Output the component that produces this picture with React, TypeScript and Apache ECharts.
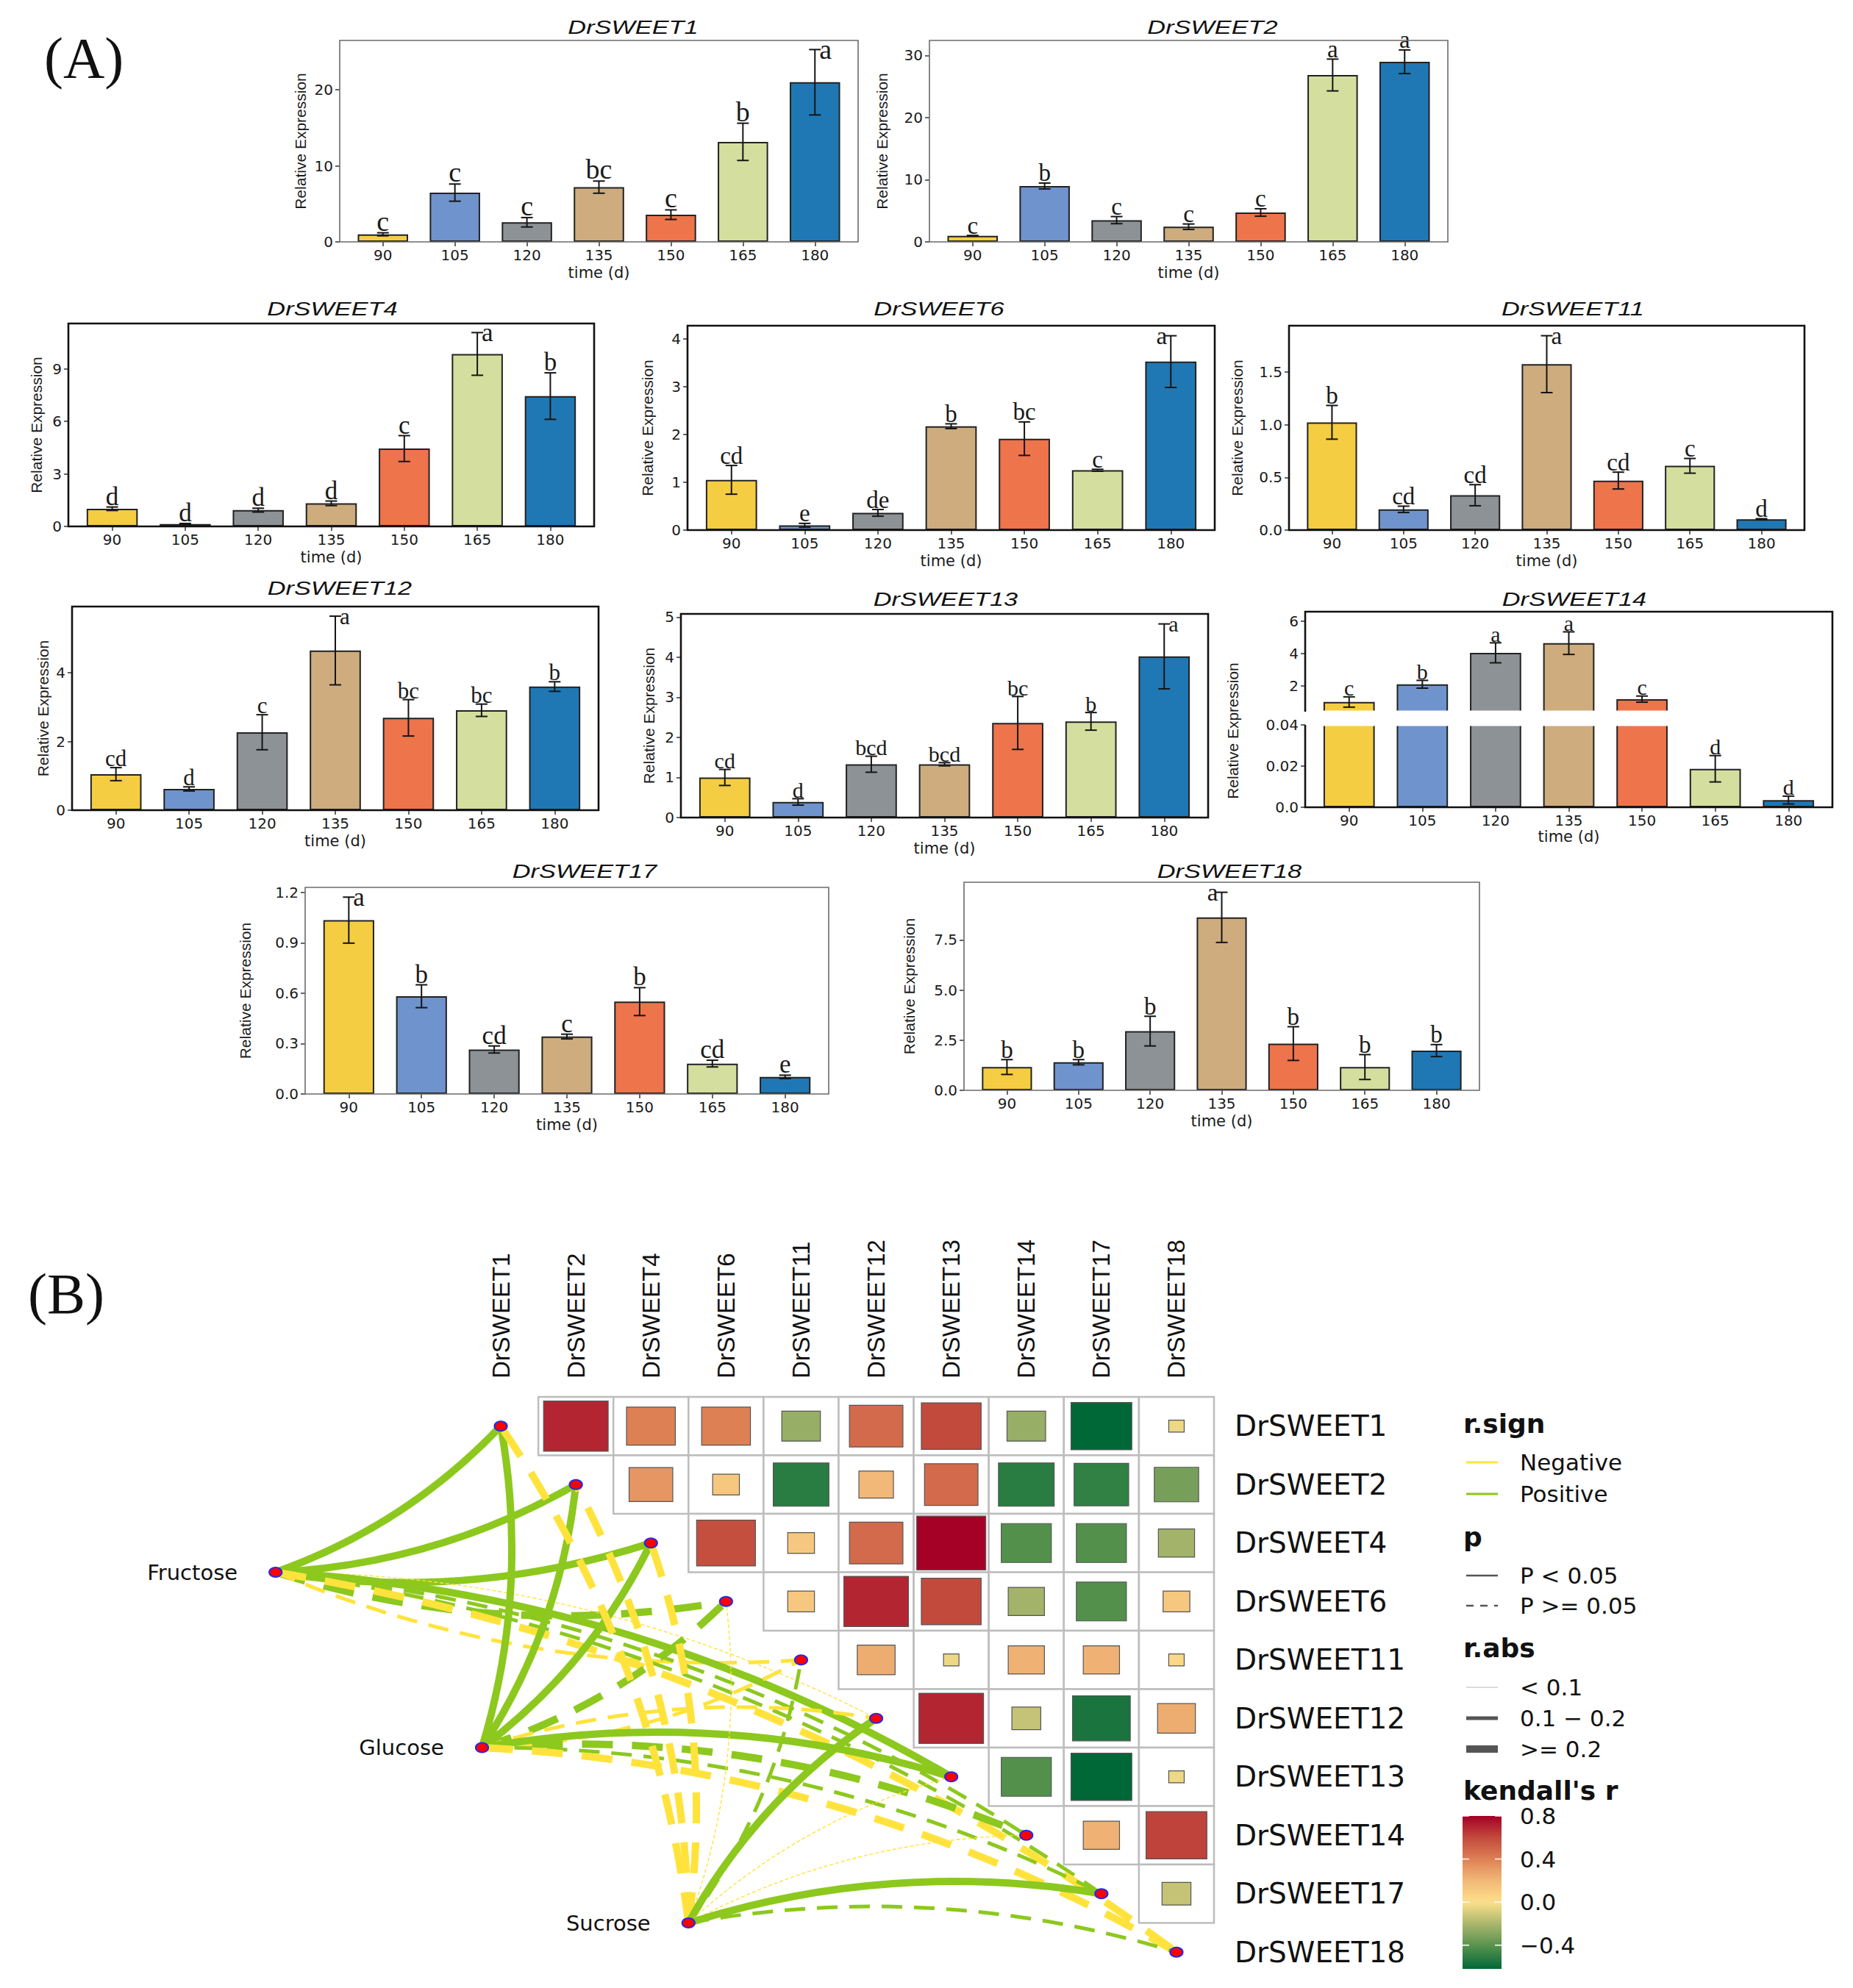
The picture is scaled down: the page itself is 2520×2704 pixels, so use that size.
import React, { useEffect, useRef } from 'react';
import * as echarts from 'echarts';

// ---------------- DATA ----------------
const timePoints = ['90', '105', '120', '135', '150', '165', '180'];

const sweet1Mean = [1.0, 6.48, 2.58, 7.2, 3.58, 13.16, 21.0];
const sweet1Err = [0.2, 1.13, 0.62, 0.8, 0.63, 2.45, 4.3];
const sweet1Sig = ['c', 'c', 'c', 'bc', 'c', 'b', 'a'];
const sweet1Ticks = [0, 10, 20];

const sweet2Mean = [0.99, 8.99, 3.5, 2.44, 4.73, 26.84, 28.97];
const sweet2Err = [0.05, 0.47, 0.57, 0.44, 0.6, 2.56, 1.9];
const sweet2Sig = ['c', 'b', 'c', 'c', 'c', 'a', 'a'];
const sweet2Ticks = [0, 10, 20, 30];

const sweet4Mean = [1.01, 0.14, 0.93, 1.32, 4.45, 9.86, 7.45];
const sweet4Err = [0.1, 0.03, 0.11, 0.13, 0.74, 1.22, 1.33];
const sweet4Sig = ['d', 'd', 'd', 'd', 'c', 'a', 'b'];
const sweet4Ticks = [0, 3, 6, 9];

const sweet6Mean = [1.05, 0.1, 0.36, 2.17, 1.91, 1.25, 3.52];
const sweet6Err = [0.3, 0.04, 0.07, 0.05, 0.35, 0.02, 0.54];
const sweet6Sig = ['cd', 'e', 'de', 'b', 'bc', 'c', 'a'];
const sweet6Ticks = [0, 1, 2, 3, 4];

const sweet11Mean = [1.023, 0.197, 0.331, 1.575, 0.47, 0.61, 0.103];
const sweet11Err = [0.16, 0.03, 0.1, 0.27, 0.08, 0.07, 0.005];
const sweet11Sig = ['b', 'cd', 'cd', 'a', 'cd', 'c', 'd'];
const sweet11Ticks = [0, 0.5, 1, 1.5];

const sweet12Mean = [1.05, 0.62, 2.27, 4.65, 2.69, 2.91, 3.6];
const sweet12Err = [0.19, 0.06, 0.51, 1.0, 0.53, 0.18, 0.14];
const sweet12Sig = ['cd', 'd', 'c', 'a', 'bc', 'bc', 'b'];
const sweet12Ticks = [0, 2, 4];

const sweet13Mean = [1.0, 0.39, 1.33, 1.33, 2.36, 2.4, 4.02];
const sweet13Err = [0.2, 0.08, 0.2, 0.04, 0.66, 0.22, 0.81];
const sweet13Sig = ['cd', 'd', 'bcd', 'bcd', 'bc', 'b', 'a'];
const sweet13Ticks = [0, 1, 2, 3, 4, 5];

const sweet14Mean = [1.0, 2.1, 4.05, 4.65, 1.18, 0.0187, 0.0035];
const sweet14Err = [0.32, 0.24, 0.62, 0.7, 0.19, 0.0064, 0.0019];
const sweet14Sig = ['c', 'b', 'a', 'a', 'c', 'd', 'd'];
const sweet14UpperTicks = [2, 4, 6];
const sweet14LowerTicks = [0, 0.02, 0.04];

const sweet17Mean = [1.035, 0.582, 0.265, 0.342, 0.55, 0.181, 0.102];
const sweet17Err = [0.137, 0.068, 0.021, 0.014, 0.083, 0.02, 0.01];
const sweet17Sig = ['a', 'b', 'cd', 'c', 'b', 'cd', 'e'];
const sweet17Ticks = [0, 0.3, 0.6, 0.9, 1.2];

const sweet18Mean = [1.16, 1.4, 2.95, 8.62, 2.33, 1.16, 1.98];
const sweet18Err = [0.37, 0.13, 0.74, 1.25, 0.84, 0.62, 0.3];
const sweet18Sig = ['b', 'b', 'b', 'a', 'b', 'b', 'b'];
const sweet18Ticks = [0, 2.5, 5, 7.5];

const geneLabels = ['DrSWEET1', 'DrSWEET2', 'DrSWEET4', 'DrSWEET6', 'DrSWEET11', 'DrSWEET12', 'DrSWEET13', 'DrSWEET14', 'DrSWEET17', 'DrSWEET18'];

// Kendall r between gene i (row) and the genes after it (columns i+1..)
const kendallRow1 = [0.7, 0.4, 0.4, -0.25, 0.48, 0.6, -0.25, -0.62, -0.04];
const kendallRow2 = [0.32, 0.12, -0.52, 0.2, 0.48, -0.52, -0.5, -0.33];
const kendallRow4 = [0.58, 0.12, 0.48, 0.8, -0.42, -0.42, -0.22];
const kendallRow6 = [0.12, 0.7, 0.6, -0.22, -0.42, 0.12];
const kendallRow11 = [0.24, -0.04, 0.22, 0.22, 0.04];
const kendallRow12 = [0.7, -0.14, -0.56, 0.24];
const kendallRow13 = [-0.42, -0.62, -0.04];
const kendallRow14 = [0.22, 0.62];
const kendallRow17 = [-0.14];
const kendallRows = [kendallRow1, kendallRow2, kendallRow4, kendallRow6, kendallRow11, kendallRow12, kendallRow13, kendallRow14, kendallRow17];

const sugarNames = ['Fructose', 'Glucose', 'Sucrose'];
const fructoseR = [0.45, 0.42, 0.4, 0.25, -0.15, -0.05, 0.38, 0.15, 0.14, -0.28];
const fructoseP = [0.01, 0.01, 0.02, 0.12, 0.3, 0.7, 0.02, 0.35, 0.4, 0.09];
const glucoseR = [0.5, 0.45, 0.42, 0.26, -0.14, -0.13, 0.4, 0.22, 0.16, -0.3];
const glucoseP = [0.005, 0.01, 0.01, 0.11, 0.4, 0.42, 0.02, 0.18, 0.33, 0.07];
const sucroseR = [-0.3, -0.28, -0.32, -0.06, 0.17, 0.4, -0.05, -0.04, 0.42, 0.15];
const sucroseP = [0.07, 0.09, 0.06, 0.7, 0.3, 0.02, 0.75, 0.8, 0.01, 0.36];

const colorbarTicks = [0.8, 0.4, 0.0, -0.4];
const colorbarRange = [-0.62, 0.8];

// ---------------- STYLE / LAYOUT ----------------
const FONT_WIDE = '"DejaVu Sans", "Liberation Sans", sans-serif';
const FONT_SANS = '"Liberation Sans", Arial, sans-serif';
const FONT_SERIF = '"Liberation Serif", "Times New Roman", serif';
const barColors = ['#F5CD42', '#6F93CC', '#8D9296', '#CEAC7E', '#EE744B', '#D4DF9F', '#1F78B4'];
const POS = '#8DC81E';
const NEG = '#FFE33C';
const corrStops: [number, string][] = [
  [-0.62, '#006837'], [-0.42, '#52904C'], [-0.22, '#A3B36A'], [0, '#FEE08B'],
  [0.2, '#F1B877'], [0.4, '#DD8054'], [0.6, '#C24A3D'], [0.8, '#A50026'],
];

const panels = [
  { title: 'DrSWEET1', mean: sweet1Mean, err: sweet1Err, sig: sweet1Sig, ticks: sweet1Ticks },
  { title: 'DrSWEET2', mean: sweet2Mean, err: sweet2Err, sig: sweet2Sig, ticks: sweet2Ticks },
  { title: 'DrSWEET4', mean: sweet4Mean, err: sweet4Err, sig: sweet4Sig, ticks: sweet4Ticks },
  { title: 'DrSWEET6', mean: sweet6Mean, err: sweet6Err, sig: sweet6Sig, ticks: sweet6Ticks },
  { title: 'DrSWEET11', mean: sweet11Mean, err: sweet11Err, sig: sweet11Sig, ticks: sweet11Ticks },
  { title: 'DrSWEET12', mean: sweet12Mean, err: sweet12Err, sig: sweet12Sig, ticks: sweet12Ticks },
  { title: 'DrSWEET13', mean: sweet13Mean, err: sweet13Err, sig: sweet13Sig, ticks: sweet13Ticks },
  { title: 'DrSWEET14', mean: sweet14Mean, err: sweet14Err, sig: sweet14Sig, ticks: sweet14LowerTicks },
  { title: 'DrSWEET17', mean: sweet17Mean, err: sweet17Err, sig: sweet17Sig, ticks: sweet17Ticks },
  { title: 'DrSWEET18', mean: sweet18Mean, err: sweet18Err, sig: sweet18Sig, ticks: sweet18Ticks },
];

const panelLayouts: any[] = [
  { frame: [462, 55, 1167, 329], yMax: 26.5, interval: 10, digits: 0, nameGap: 43, title: [861, 37], thin: true, letterSize: 38, beside: [6, 'right'] },
  { frame: [1264, 55, 1969, 329], yMax: 32.4, interval: 10, digits: 0, nameGap: 54, title: [1649, 37], thin: true, letterSize: 33 },
  { frame: [93, 440, 808, 716], yMax: 11.6, interval: 3, digits: 0, nameGap: 33, title: [452, 420], letterSize: 35, beside: [5, 'right'] },
  { frame: [935, 443, 1652, 721], yMax: 4.27, interval: 1, digits: 0, nameGap: 44, title: [1277, 420], letterSize: 33, beside: [6, 'left'] },
  { frame: [1753, 443, 2454, 721], yMax: 1.94, interval: 0.5, digits: 1, nameGap: 60, title: [2139, 420], letterSize: 33, beside: [3, 'right'] },
  { frame: [98, 825, 814, 1102], yMax: 5.93, interval: 2, digits: 0, nameGap: 29, title: [462, 800], letterSize: 31, beside: [3, 'right'] },
  { frame: [926, 835, 1643, 1112], yMax: 5.08, interval: 1, digits: 0, nameGap: 33, title: [1286, 815], letterSize: 30, beside: [6, 'right'] },
  { frame: [1775, 832, 2492, 1098], broken: true, upper: [832, 968], lower: [986, 1098], upperRange: [0.4, 6.6], lowerMax: 0.04, nameX: 1676, nameY: 994, title: [2141, 815], letterSize: 30 },
  { frame: [415, 1207, 1127, 1488], yMax: 1.23, interval: 0.3, digits: 1, nameGap: 71, title: [795, 1185], thin: true, letterSize: 35, beside: [0, 'right'] },
  { frame: [1311, 1200, 2012, 1483], yMax: 10.37, interval: 2.5, digits: 1, nameGap: 64, title: [1672, 1185], thin: true, letterSize: 33, beside: [3, 'left'] },
];

const heat = { left: 630, top: 1900, cellW: 102.1, cellH: 79.5 };
const sugarLayout = { x: [-3, -0.25, 2.5], y: [2.5, 5.5, 8.5] };

function hexToRgb(h: string) {
  const n = parseInt(h.slice(1), 16);
  return [(n >> 16) & 255, (n >> 8) & 255, n & 255];
}
function corrColor(r: number) {
  if (r <= corrStops[0][0]) return corrStops[0][1];
  for (let i = 1; i < corrStops.length; i++) {
    if (r <= corrStops[i][0]) {
      const [a, ca] = corrStops[i - 1];
      const [b, cb] = corrStops[i];
      const t = (r - a) / (b - a);
      const A = hexToRgb(ca), B = hexToRgb(cb);
      return 'rgb(' + A.map((v, j) => Math.round(v + (B[j] - v) * t)).join(',') + ')';
    }
  }
  return corrStops[corrStops.length - 1][1];
}

const TXT = '#1a1a1a';

function xCat(gi: number, showLabels: boolean, nameGap = 31) {
  return {
    type: 'category', gridIndex: gi, data: timePoints, boundaryGap: true,
    axisLine: { show: false },
    axisTick: { show: showLabels, alignWithLabel: true, length: 6, lineStyle: { color: '#333', width: 1.5 } },
    axisLabel: { show: showLabels, interval: 0, margin: 8, fontFamily: FONT_WIDE, fontSize: 20, color: TXT },
    splitLine: { show: false },
    name: showLabels ? 'time (d)' : '', nameLocation: 'middle', nameGap,
    nameTextStyle: { fontFamily: FONT_WIDE, fontSize: 21, color: TXT },
  };
}

function yVal(gi: number, o: any) {
  return {
    type: 'value', gridIndex: gi, min: o.min, max: o.max, interval: o.interval, offset: o.offset,
    axisLine: { show: false },
    axisTick: { show: true, length: 6, lineStyle: { color: '#333', width: 1.5 }, customValues: o.ticks },
    axisLabel: { margin: 9, fontFamily: FONT_WIDE, fontSize: 20, color: TXT, customValues: o.ticks, formatter: o.formatter },
    splitLine: { show: false },
    name: o.name || '', nameLocation: 'middle', nameGap: o.nameGap || 40,
    nameTextStyle: { fontFamily: FONT_SANS, fontSize: 21, color: TXT },
  };
}

function barSeries(gi: number, mean: number[]) {
  return {
    type: 'bar', xAxisIndex: gi, yAxisIndex: gi, barWidth: '70%', silent: true, z: 2,
    data: mean.map((v, i) => ({ value: v, itemStyle: { color: barColors[i] } })),
    itemStyle: { borderColor: '#222', borderWidth: 2 },
  };
}

function errSeries(gi: number, p: any, L: any, idxs: number[]) {
  return {
    type: 'custom', xAxisIndex: gi, yAxisIndex: gi, silent: true, z: 4,
    data: idxs.map((i) => [i, p.mean[i], p.err[i], i]),
    encode: { x: 0, y: 1 },
    renderItem: (params: any, api: any) => {
      const i = api.value(0), m = api.value(1), e = api.value(2), k = api.value(3);
      const top = api.coord([i, m + e]);
      const bot = api.coord([i, m - e]);
      const cx = top[0];
      const cw = 8;
      const sty = { stroke: '#151515', lineWidth: 2 };
      let tx = cx, ty = top[1] + 3, align = 'center', valign = 'bottom';
      if (L.beside && L.beside[0] === k) {
        valign = 'middle';
        ty = top[1];
        if (L.beside[1] === 'right') { tx = cx + 6; align = 'left'; } else { tx = cx - 5; align = 'right'; }
      }
      return {
        type: 'group',
        children: [
          { type: 'line', shape: { x1: cx, y1: top[1], x2: cx, y2: bot[1] }, style: sty },
          { type: 'line', shape: { x1: cx - cw, y1: top[1], x2: cx + cw, y2: top[1] }, style: sty },
          { type: 'line', shape: { x1: cx - cw, y1: bot[1], x2: cx + cw, y2: bot[1] }, style: sty },
          {
            type: 'text', x: tx, y: ty,
            style: { text: p.sig[k], textAlign: align, textVerticalAlign: valign, font: L.letterSize + 'px ' + FONT_SERIF, fill: TXT },
          },
        ],
      };
    },
  };
}

function buildOption() {
  const grid: any[] = [], xAxis: any[] = [], yAxis: any[] = [], series: any[] = [], graphic: any[] = [];

  panels.forEach((p, k) => {
    const L = panelLayouts[k];
    const [x0, y0, x1, y1] = L.frame;
    const w = x1 - x0;
    const inset = w / 72;
    const stroke = L.thin ? '#6b6b6b' : '#111';
    const lw = L.thin ? 1.6 : 2.6;
    if (!L.broken) {
      const gi = grid.length;
      grid.push({ left: x0 + inset, top: y0, width: w - 2 * inset, height: y1 - y0 });
      xAxis.push(xCat(gi, true));
      yAxis.push(yVal(gi, {
        min: 0, max: L.yMax, interval: L.interval, offset: inset, ticks: p.ticks,
        formatter: (v: number) => v.toFixed(L.digits), name: 'Relative Expression', nameGap: L.nameGap,
      }));
      series.push(barSeries(gi, p.mean));
      series.push(errSeries(gi, p, L, p.mean.map((_, i) => i)));
      graphic.push({ type: 'rect', z: 100, silent: true, shape: { x: x0, y: y0, width: w, height: y1 - y0 }, style: { fill: 'none', stroke, lineWidth: lw } });
    } else {
      const gu = grid.length;
      grid.push({ left: x0 + inset, top: L.upper[0], width: w - 2 * inset, height: L.upper[1] - L.upper[0] });
      xAxis.push(xCat(gu, false));
      yAxis.push(yVal(gu, {
        min: L.upperRange[0], max: L.upperRange[1], offset: inset, ticks: sweet14UpperTicks,
        formatter: (v: number) => String(Math.round(v)),
      }));
      const gl = grid.length;
      grid.push({ left: x0 + inset, top: L.lower[0], width: w - 2 * inset, height: L.lower[1] - L.lower[0] });
      xAxis.push(xCat(gl, true, 29));
      yAxis.push(yVal(gl, {
        min: 0, max: L.lowerMax, interval: 0.02, offset: inset, ticks: sweet14LowerTicks,
        formatter: (v: number) => (v === 0 ? '0.0' : v.toFixed(2)),
      }));
      series.push(barSeries(gu, p.mean));
      series.push(barSeries(gl, p.mean));
      const up = p.mean.map((_, i) => i).filter((i) => p.mean[i] >= L.upperRange[0]);
      const lo = p.mean.map((_, i) => i).filter((i) => p.mean[i] < L.lowerMax);
      series.push(errSeries(gu, p, L, up));
      series.push(errSeries(gl, p, L, lo));
      graphic.push({
        type: 'rect', z: 90, silent: true,
        shape: { x: x0 + 2, y: L.upper[1] - 1.6, width: w - 4, height: L.lower[0] - L.upper[1] + 3.2 },
        style: { fill: '#fff' },
      });
      graphic.push({
        type: 'polyline', z: 100, silent: true,
        shape: { points: [[x0, L.upper[1]], [x0, y0], [x1, y0], [x1, y1], [x0, y1], [x0, L.lower[0]]] },
        style: { fill: 'none', stroke, lineWidth: lw },
      });
      graphic.push({
        type: 'text', x: L.nameX, y: L.nameY, rotation: Math.PI / 2, z: 100,
        style: { text: 'Relative Expression', textAlign: 'center', textVerticalAlign: 'middle', font: '21px ' + FONT_SANS, fill: TXT },
      });
    }
    graphic.push({
      type: 'text', x: L.title[0], y: L.title[1], scaleX: 1.32, z: 100,
      style: { text: p.title, textAlign: 'center', textVerticalAlign: 'middle', font: 'italic 26px ' + FONT_SANS, fill: '#111' },
    });
  });

  // ---------- Part B: heatmap ----------
  const hg = grid.length;
  grid.push({ left: heat.left, top: heat.top, width: heat.cellW * 10, height: heat.cellH * 10 });
  xAxis.push({
    type: 'category', gridIndex: hg, data: geneLabels, position: 'top',
    axisLine: { show: false }, axisTick: { show: false }, splitLine: { show: false },
    axisLabel: { interval: 0, rotate: -90, margin: 25, fontFamily: FONT_SANS, fontSize: 33, color: '#111' },
  });
  yAxis.push({
    type: 'category', gridIndex: hg, data: geneLabels, inverse: true, position: 'right',
    axisLine: { show: false }, axisTick: { show: false }, splitLine: { show: false },
    axisLabel: { interval: 0, margin: 28, fontFamily: FONT_WIDE, fontSize: 39, color: '#111' },
  });
  const heatData: number[][] = [];
  kendallRows.forEach((row, i) => row.forEach((r, t) => heatData.push([i + 1 + t, i, r])));
  series.push({
    type: 'custom', xAxisIndex: hg, yAxisIndex: hg, silent: true, z: 2,
    data: heatData, encode: { x: 0, y: 1 },
    renderItem: (params: any, api: any) => {
      const c = api.coord([api.value(0), api.value(1)]);
      const s = api.size([1, 1]);
      const r = api.value(2);
      const f = 0.92 * Math.sqrt(Math.abs(r) / 0.8);
      return {
        type: 'group',
        children: [
          { type: 'rect', shape: { x: c[0] - s[0] / 2, y: c[1] - s[1] / 2, width: s[0], height: s[1] }, style: { fill: '#fff', stroke: '#BDBDBD', lineWidth: 2.5 } },
          { type: 'rect', shape: { x: c[0] - (s[0] * f) / 2, y: c[1] - (s[1] * f) / 2, width: s[0] * f, height: s[1] * f }, style: { fill: corrColor(r), stroke: '#555', lineWidth: 1.2 } },
        ],
      };
    },
  });

  // ---------- Part B: network ----------
  const ng = grid.length;
  grid.push({ left: heat.left - 3.5 * heat.cellW, top: heat.top, width: 13.5 * heat.cellW, height: heat.cellH * 10 });
  xAxis.push({ type: 'value', gridIndex: ng, min: -4, max: 9.5, show: false });
  yAxis.push({ type: 'value', gridIndex: ng, min: -0.5, max: 9.5, inverse: true, show: false });

  const sugarData = [
    { name: 'Fructose', r: fructoseR, p: fructoseP },
    { name: 'Glucose', r: glucoseR, p: glucoseP },
    { name: 'Sucrose', r: sucroseR, p: sucroseP },
  ];
  const links: any[] = [];
  sugarData.forEach((s) => s.r.forEach((r, j) => {
    const abs = Math.abs(r);
    const width = abs < 0.1 ? 1.4 : abs < 0.2 ? 5 : 10;
    const sig = s.p[j] < 0.05;
    const dash = width >= 10 ? [42, 26] : width >= 5 ? [28, 16] : [5, 3];
    links.push({
      source: s.name, target: geneLabels[j],
      lineStyle: { color: r < 0 ? NEG : POS, width, type: sig ? 'solid' : dash, curveness: j < 5 ? -0.12 : 0.12, opacity: 1 },
    });
  }));
  const nodes: any[] = geneLabels.map((g, i) => ({ name: g, value: [i, i] }));
  sugarNames.forEach((s, k) => nodes.push({
    name: s, value: [sugarLayout.x[k], sugarLayout.y[k]],
    label: { show: true, position: 'left', distance: 42, fontFamily: FONT_WIDE, fontSize: 29, color: '#111' },
  }));
  series.push({
    type: 'graph', coordinateSystem: 'cartesian2d', xAxisIndex: ng, yAxisIndex: ng, layout: 'none',
    silent: true, z: 5, roam: false,
    symbol: 'circle', symbolSize: [17, 13],
    itemStyle: { color: '#FF0000', borderColor: '#2828E8', borderWidth: 2 },
    label: { show: false },
    lineStyle: { opacity: 1 },
    emphasis: { disabled: true },
    data: nodes, links,
  });

  // ---------- Part B: legend ----------
  const lx = 1990, sx1 = 1994, sx2 = 2037, tx = 2067;
  const title = (t: string, y: number) => ({ type: 'text', x: lx, y, z: 100, style: { text: t, textAlign: 'left', textVerticalAlign: 'middle', font: 'bold 36px ' + FONT_WIDE, fill: '#111' } });
  const item = (t: string, y: number) => ({ type: 'text', x: tx, y, z: 100, style: { text: t, textAlign: 'left', textVerticalAlign: 'middle', font: '31px ' + FONT_WIDE, fill: '#111' } });
  const sample = (y: number, stroke: string, lineWidth: number, lineDash?: number[]) => ({ type: 'line', z: 100, shape: { x1: sx1, y1: y, x2: sx2, y2: y }, style: { stroke, lineWidth, lineDash } });
  graphic.push(title('r.sign', 1936));
  graphic.push(sample(1989, NEG, 3)); graphic.push(item('Negative', 1989));
  graphic.push(sample(2032, POS, 3)); graphic.push(item('Positive', 2032));
  graphic.push(title('p', 2090));
  graphic.push(sample(2143, '#555', 2.5)); graphic.push(item('P < 0.05', 2143));
  graphic.push(sample(2184, '#555', 2.5, [10, 9])); graphic.push(item('P >= 0.05', 2184));
  graphic.push(title('r.abs', 2241));
  graphic.push(sample(2295, '#cfcfcf', 1.5)); graphic.push(item('< 0.1', 2295));
  graphic.push(sample(2337, '#555', 5)); graphic.push(item('0.1 \u2212 0.2', 2337));
  graphic.push(sample(2379, '#555', 10)); graphic.push(item('>= 0.2', 2379));
  graphic.push(title("kendall's r", 2435));
  const cbTop = 2470, cbH = 208, cbX = 1989, cbW = 53;
  const span = colorbarRange[1] - colorbarRange[0];
  const cbY = (v: number) => cbTop + ((colorbarRange[1] - v) / span) * cbH;
  const stops: any[] = [];
  for (let s = 0; s <= 28; s++) {
    const v = colorbarRange[1] - (span * s) / 28;
    stops.push({ offset: s / 28, color: corrColor(v) });
  }
  graphic.push({ type: 'rect', z: 100, shape: { x: cbX, y: cbTop, width: cbW, height: cbH }, style: { fill: { type: 'linear', x: 0, y: 0, x2: 0, y2: 1, colorStops: stops } } });
  colorbarTicks.forEach((v) => {
    const y = cbY(v);
    graphic.push({ type: 'line', z: 101, shape: { x1: cbX, y1: y, x2: cbX + 9, y2: y }, style: { stroke: '#fff', lineWidth: 1.5 } });
    graphic.push({ type: 'line', z: 101, shape: { x1: cbX + cbW - 9, y1: y, x2: cbX + cbW, y2: y }, style: { stroke: '#fff', lineWidth: 1.5 } });
    graphic.push(item(v < 0 ? '\u2212' + Math.abs(v).toFixed(1) : v.toFixed(1), y));
  });

  // panel letters
  graphic.push({ type: 'text', x: 60, y: 78, z: 100, style: { text: '(A)', textAlign: 'left', textVerticalAlign: 'middle', font: '78px ' + FONT_SERIF, fill: '#111' } });
  graphic.push({ type: 'text', x: 38, y: 1759, z: 100, style: { text: '(B)', textAlign: 'left', textVerticalAlign: 'middle', font: '78px ' + FONT_SERIF, fill: '#111' } });

  return {
    animation: false,
    backgroundColor: '#fff',
    grid, xAxis, yAxis, series,
    graphic: { elements: graphic },
  };
}

export default function App() {
  const ref = useRef<HTMLDivElement>(null);
  useEffect(() => {
    document.body.style.margin = '0';
    const chart = echarts.init(ref.current as HTMLDivElement, null, { renderer: 'svg', width: 2520, height: 2704 });
    chart.setOption(buildOption() as any);
    return () => chart.dispose();
  }, []);
  return <div ref={ref} style={{ width: 2520, height: 2704, background: '#fff' }} />;
}
